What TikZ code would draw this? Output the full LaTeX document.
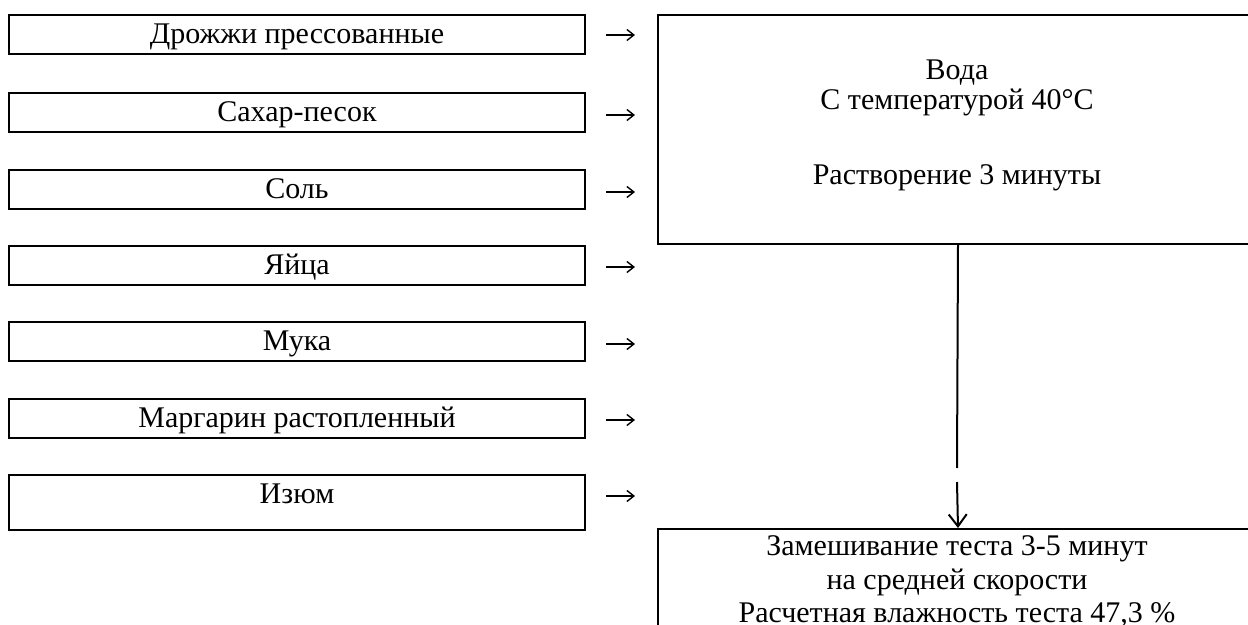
\documentclass[tikz,border=0pt]{standalone}
\usepackage{fontspec}
\setmainfont{Liberation Serif}
\usetikzlibrary{arrows.meta}
\begin{document}
\begin{tikzpicture}[x=0.5pt,y=-0.5pt,line width=1pt,
  font=\fontsize{15}{17.25}\selectfont,
  inbox/.style={draw, minimum width=288pt, inner xsep=0pt, inner ysep=0pt,
    text height=14.5pt, text depth=5pt, anchor=north},
  tallbox/.style={inbox, text depth=13pt},
  glyph/.style={anchor=base, inner sep=0pt},
  bigbox/.style={draw, minimum width=300pt, inner sep=0pt, anchor=north west},
  feed/.style={line width=0.7pt, -{Straight Barb[length=3.5pt,width=5.5pt,line width=0.7pt]}},
  tip/.style={-{Straight Barb[length=6pt,width=9pt]}}]
\useasboundingbox (0,0) rectangle (1248,625);
\clip (0,0) rectangle (1248,625);
% ingredient boxes
\node[inbox] (b1) at (297,14) {Дрожжи прессованные};
\node[inbox] (b2) at (297,92) {Сахар-песок};
\node[inbox] (b3) at (297,169) {Соль};
\node[inbox] (b4) at (297,245) {Яйца};
\node[inbox] (b5) at (297,321) {Мука};
\node[inbox] (b6) at (297,398) {Маргарин растопленный};
\node[tallbox] (b7) at (297,474) {Изюм};
% short feed arrows
\foreach \i/\y in {1/35,2/115,3/192,4/267,5/344,6/420,7/496}{
  \coordinate (s\i) at (606,\y);
  \coordinate (e\i) at (635,\y);
  \draw[feed] (s\i) -- (e\i);
}
% water box
\node[bigbox, minimum height=114.5pt] (water) at (657,14) {};
\node[glyph] (w1) at (957,80) {Вода};
\node[glyph] (w2) at (957,110) {С температурой 40°С};
\node[glyph] (w3) at (957,185) {Растворение 3 минуты};
% mixing box
\node[bigbox, minimum height=70pt] (mix) at (657,528) {};
\node[glyph] (m1) at (957,555) {Замешивание теста 3-5 минут};
\node[glyph] (m2) at (957,589) {на средней скорости};
\node[glyph] (m3) at (957,622) {Расчетная влажность теста 47,3 \%};
% connector with gap
\coordinate (g1) at (957,468);
\coordinate (g2) at (957,482);
\draw (water.south) -- (g1);
\draw[tip] (g2) -- (mix.north);
\end{tikzpicture}
\end{document}
